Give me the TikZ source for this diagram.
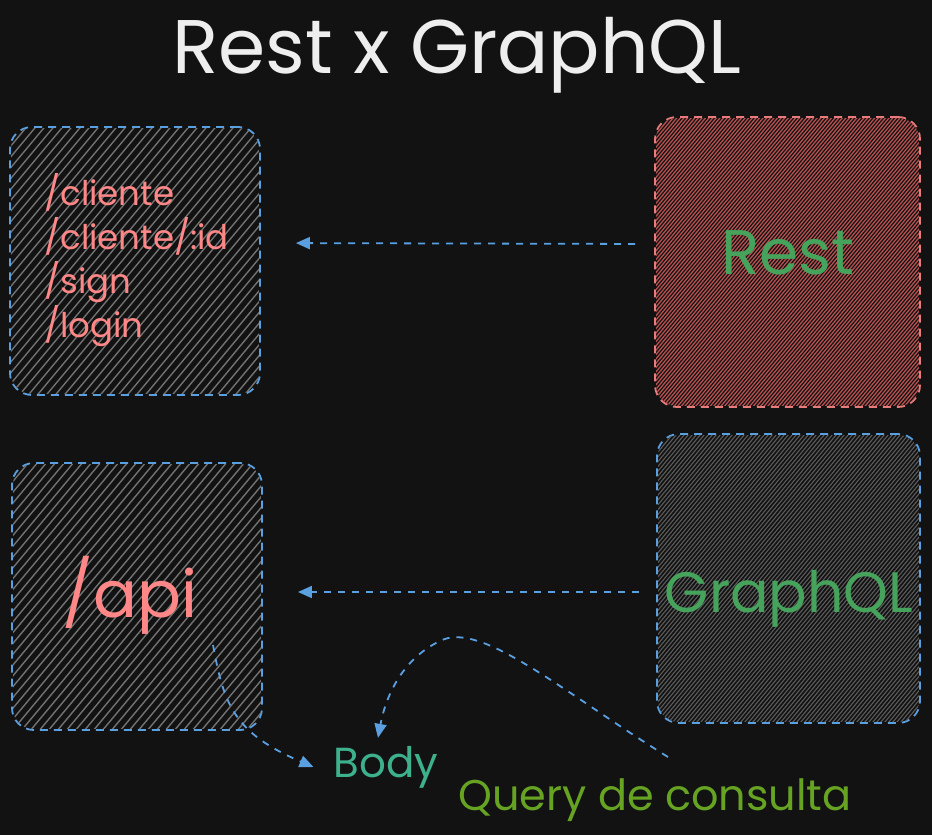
\documentclass[tikz,border=0pt]{standalone}
\usepackage{fontspec}
\setmainfont{Poppins}
\usetikzlibrary{arrows.meta,calc}
\definecolor{bg}{HTML}{121212}
\definecolor{blueln}{HTML}{5AA0E0}
\definecolor{redln}{HTML}{E87B7B}
\definecolor{redhatch}{HTML}{B65050}
\definecolor{grayhatch}{HTML}{727272}
\definecolor{grayhatchd}{HTML}{5C5C5C}
\definecolor{salmon}{HTML}{FF8787}
\definecolor{leaf}{HTML}{46A35C}
\definecolor{teal}{HTML}{3DB08C}
\definecolor{olive}{HTML}{66A322}
\definecolor{titlec}{HTML}{EEEEEE}
\newcommand{\hatchbox}[5]{%
  \begin{scope}
  \clip[rounded corners=20pt] ([shift={(2pt,2pt)}]#1.south west) rectangle ([shift={(-2pt,-2pt)}]#1.north east);
  \foreach \k in {0,...,#4} {\draw[#2, line width=#5] ($(#1.center)+(\k*#3-400-150,180)$) -- ++(300,-360);}
  \end{scope}}
\tikzset{
  boxb/.style={draw=blueln, line width=1.8pt, dash pattern=on 8pt off 6pt, rounded corners=22pt, inner sep=0pt},
  boxr/.style={draw=redln, line width=1.8pt, dash pattern=on 8pt off 6pt, rounded corners=22pt, inner sep=0pt},
  conn/.style={draw=blueln, line width=1.8pt, dash pattern=on 7pt off 7pt, -{Triangle[length=14pt,width=12pt]}},
  lbl/.style={inner sep=0pt, font=\fontsize{#1}{#1}\selectfont},
}
\begin{document}
\begin{tikzpicture}[x=1pt,y=-1pt]
\fill[bg] (0,0) rectangle (932,835);
\useasboundingbox (0,0) rectangle (932,835);
% boxes
\node[boxb, minimum width=250pt, minimum height=268pt] (list) at (135,261) {};
\node[boxr, minimum width=265pt, minimum height=290pt] (rest) at (787.5,262) {};
\node[boxb, minimum width=250pt, minimum height=267pt] (apibox) at (137,596.5) {};
\node[boxb, minimum width=263pt, minimum height=289pt] (gql) at (788.5,578.5) {};
% hatching
\hatchbox{list}{grayhatch}{9}{90}{1.4pt}
\hatchbox{apibox}{grayhatch}{9}{90}{1.4pt}
\hatchbox{rest}{redhatch}{3.6}{225}{1.3pt}
\hatchbox{gql}{grayhatchd}{4}{200}{1.1pt}
% title
\node[lbl=76, text=titlec, anchor=base] (title) at (457,73) {Rest x GraphQL};
% texts
\node[lbl=34, text=salmon, anchor=west, align=left, font=\fontsize{34}{44}\selectfont] (routes) at ([xshift=35pt,yshift=1pt]list.west) {/cliente\\/cliente/:id\\/sign\\/login};
\node[lbl=63, text=leaf, anchor=base] (resttxt) at (788,274) {Rest};
\node[lbl=57, text=leaf, anchor=base] (gqltxt) at (789,612) {GraphQL};
\node[lbl=65, text=salmon, anchor=base] (api) at (130,617) {/api};
\node[lbl=42, text=teal] (body) at (386,767) {Body};
\node[lbl=43, text=olive, anchor=base] (query) at (655,810) {Query de consulta};
% connectors
\draw[conn, shorten <=19pt, shorten >=35pt] ([yshift=18pt]rest.west) -- ([yshift=18pt]list.east);
\draw[conn, shorten <=17pt, shorten >=35pt] ([yshift=-13.5pt]gql.west) -- ([yshift=4.5pt]apibox.east);
\coordinate (s1) at (213,645);
\draw[conn] (s1) .. controls (224,705) and (234,733) .. ([xshift=-20pt]body.west);
\coordinate (s2) at (668,757);
\draw[conn] (s2) .. controls (560,690) and (480,620) .. (440,641) .. controls (400,660) and (385,700) .. ([xshift=-8pt,yshift=8pt]body.north);
\end{tikzpicture}
\end{document}
